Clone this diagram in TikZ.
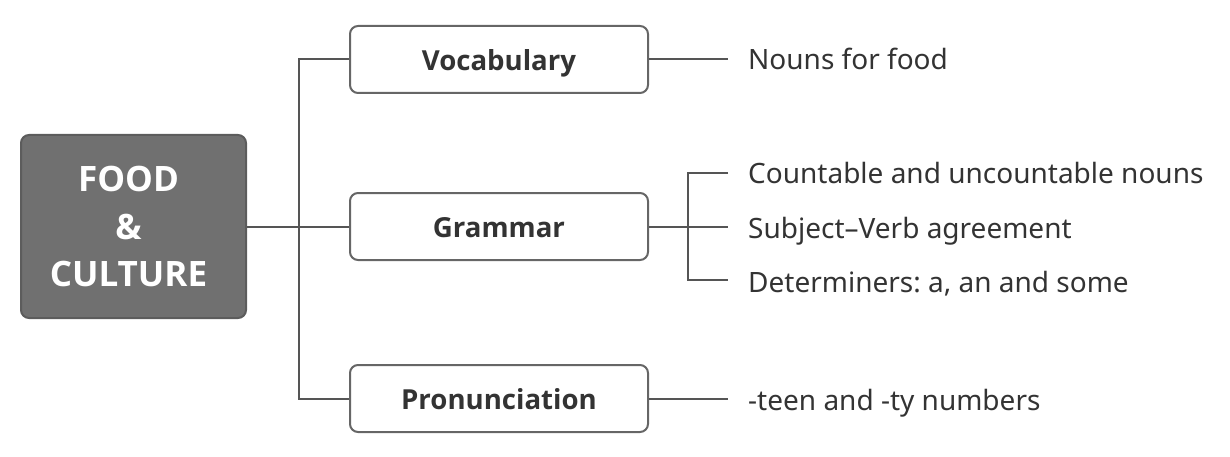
\documentclass[tikz,border=0pt]{standalone}
\usepackage{fontspec}
\setmainfont{Noto Sans}
\newfontfamily\boldfam{Open Sans}
\frenchspacing
\definecolor{rootfill}{HTML}{707070}
\definecolor{rootdraw}{HTML}{5C5C5C}
\definecolor{linec}{HTML}{555555}
\definecolor{boxdraw}{HTML}{666666}
\definecolor{txt}{HTML}{333333}
\begin{document}
\begin{tikzpicture}[x=1pt,y=-1pt,
  rootbox/.style={draw=rootdraw,line width=2pt,fill=rootfill,rounded corners=8pt,minimum width=225pt,minimum height=183pt,inner sep=0pt,text=white,font=\boldfam\bfseries\fontsize{35}{47.5}\selectfont,align=center},
  topicbox/.style={draw=boxdraw,line width=2pt,fill=white,rounded corners=8pt,minimum width=298pt,minimum height=67pt,inner sep=0pt,text=txt,text height=22pt,text depth=0pt,font=\boldfam\bfseries\fontsize{27.6}{32}\selectfont},
  leaf/.style={anchor=base west,inner sep=0pt,text=txt,font=\fontsize{28}{30}\selectfont},
  conn/.style={draw=linec,line width=2pt}]
\useasboundingbox (0,0) rectangle (1230,457);
\node[rootbox] (root) at (133.5,226.5) {FOOD\kern10pt\\\&\kern10pt\\CULTURE\kern10pt};
\node[topicbox] (voc) at (499,59.5) {Vocabulary};
\node[topicbox] (gram) at (499,226.5) {Grammar};
\node[topicbox] (pron) at (499,398.5) {Pronunciation};
\coordinate (spine) at (299,226.5);
\coordinate (gj) at (688,226.5);
\coordinate (e1) at (728,59.5);
\coordinate (e2) at (728,173);
\coordinate (e3) at (728,226.5);
\coordinate (e4) at (728,280);
\coordinate (e5) at (728,398.5);
\node[leaf] (l1) at (748,70) {Nouns for food};
\node[leaf] (l2) at (748,183.5) {Countable and uncountable nouns};
\node[leaf] (l3) at (748,238) {Subject–Verb agreement};
\node[leaf] (l4) at (748,292) {Determiners: a, an and some};
\node[leaf] (l5) at (748,410) {-teen and -ty numbers};
\draw[conn] (root.east) -- (gram.west);
\draw[conn] (voc.west) -- (spine |- voc.west) -- (spine |- pron.west) -- (pron.west);
\draw[conn] (voc.east) -- (e1);
\draw[conn] (gram.east) -- (gj);
\draw[conn] (e2) -- (gj |- e2) -- (gj |- e4) -- (e4);
\draw[conn] (gj) -- (e3);
\draw[conn] (pron.east) -- (e5);
\end{tikzpicture}
\end{document}
